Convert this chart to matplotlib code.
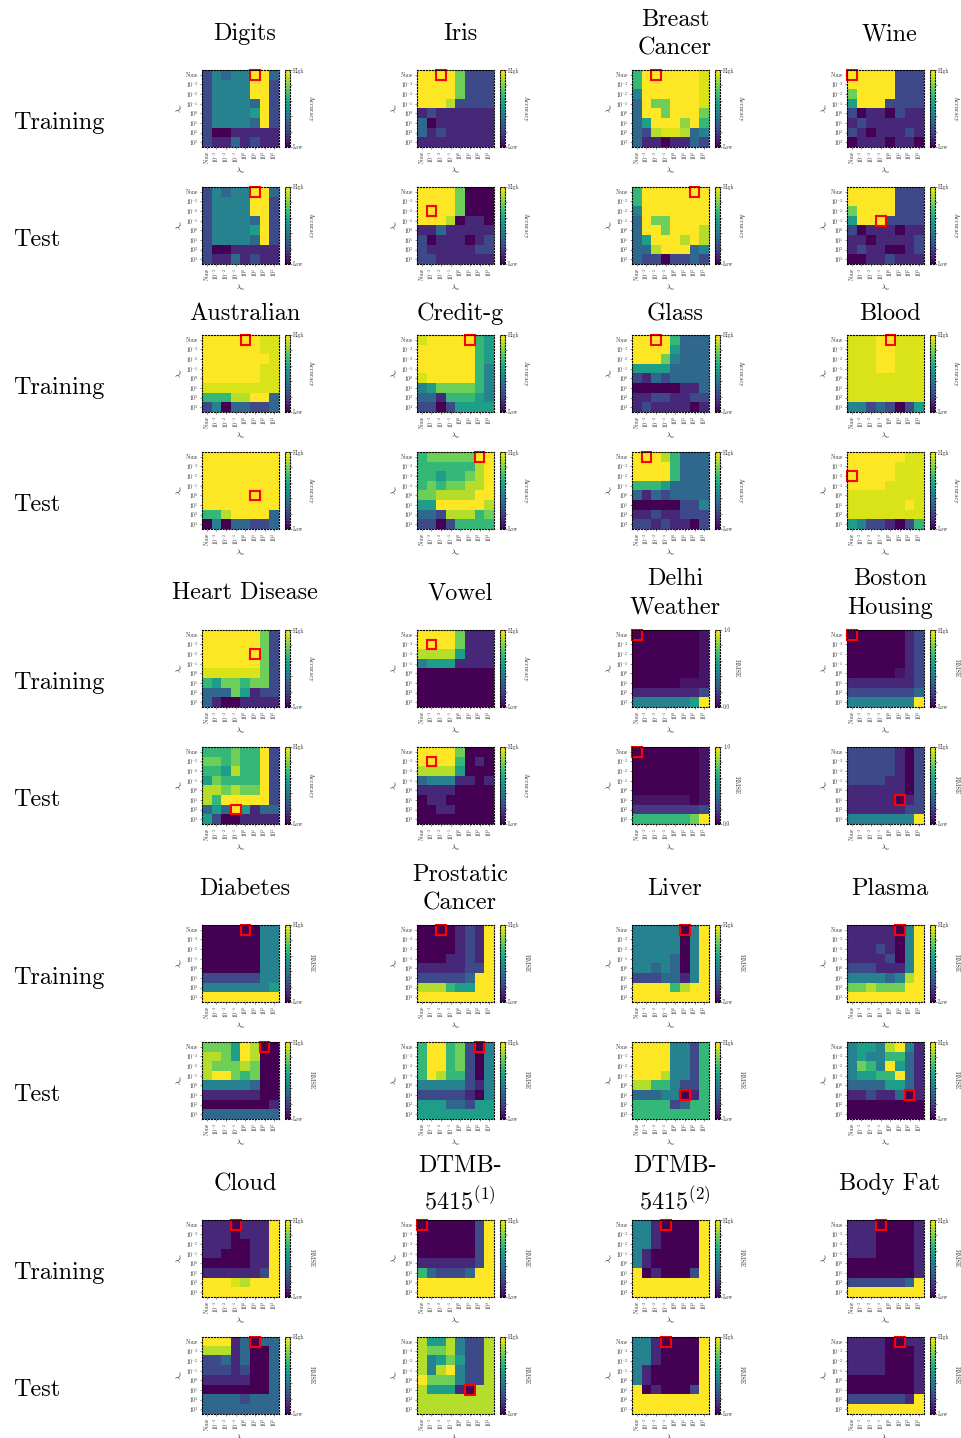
import numpy as np
import matplotlib.pyplot as plt
from matplotlib.patches import Rectangle
from matplotlib.ticker import FixedLocator

plt.rcParams['font.family'] = 'serif'
plt.rcParams['font.serif'] = ['cmr10', 'DejaVu Serif']
plt.rcParams['mathtext.fontset'] = 'cm'
plt.rcParams['axes.unicode_minus'] = False

# grid of regularisation strengths (rows: lambda_w, cols: lambda_u)
reg_labels = ['None', '$10^{-3}$', '$10^{-2}$', '$10^{-1}$',
              '$10^{0}$', '$10^{1}$', '$10^{2}$', '$10^{3}$']

# scores on a 0 (low) .. 9 (high) scale
digits_train = [[2, 4, 3, 4, 4, 9, 9, 3],
                [2, 4, 4, 4, 4, 9, 9, 2],
                [2, 4, 4, 4, 4, 9, 9, 2],
                [2, 4, 4, 4, 4, 3, 9, 2],
                [2, 4, 4, 4, 4, 5, 9, 2],
                [2, 4, 4, 4, 4, 3, 9, 2],
                [2, 0, 0, 1, 1, 1, 1, 1],
                [2, 1, 1, 3, 1, 2, 1, 1]]
digits_test = [[2, 4, 3, 4, 4, 9, 9, 3],
               [2, 4, 4, 4, 4, 9, 9, 2],
               [2, 4, 4, 4, 4, 9, 9, 2],
               [2, 4, 4, 4, 4, 3, 9, 2],
               [2, 4, 4, 4, 4, 5, 9, 2],
               [2, 4, 4, 4, 4, 3, 9, 2],
               [2, 0, 0, 1, 1, 1, 1, 1],
               [2, 1, 1, 3, 1, 2, 1, 1]]
iris_train = [[9, 9, 9, 9, 7, 2, 2, 2],
              [9, 9, 9, 9, 7, 2, 2, 2],
              [9, 9, 9, 9, 7, 2, 2, 2],
              [9, 9, 9, 8, 2, 2, 2, 2],
              [1, 2, 1, 1, 1, 1, 1, 1],
              [3, 0, 1, 1, 1, 1, 1, 1],
              [3, 1, 2, 1, 1, 1, 1, 1],
              [1, 1, 1, 1, 1, 1, 1, 1]]
iris_test = [[9, 9, 9, 9, 7, 0, 0, 0],
             [9, 9, 9, 9, 7, 0, 0, 0],
             [9, 9, 9, 9, 7, 0, 0, 0],
             [9, 9, 9, 8, 0, 1, 1, 0],
             [1, 1, 3, 1, 1, 1, 1, 1],
             [2, 0, 1, 1, 1, 0, 1, 2],
             [2, 1, 1, 1, 1, 1, 2, 2],
             [2, 2, 1, 1, 1, 1, 1, 1]]
breast_train = [[6, 9, 9, 9, 9, 9, 9, 8.5],
                [6, 9, 9, 9, 9, 9, 9, 8.5],
                [4, 9, 9, 9, 9, 9, 9, 8.5],
                [3, 9, 7, 7, 9, 9, 9, 8.5],
                [3, 9, 9, 7, 9, 9, 9, 7],
                [3, 5, 9, 9, 9, 7.5, 9, 6],
                [3, 2, 8, 8.5, 8.5, 8, 3, 4],
                [3, 1, 1, 0, 1, 1, 3, 2]]
breast_test = [[6, 9, 9, 9, 9, 9, 9, 9],
               [6, 9, 9, 9, 9, 9, 9, 9],
               [4, 9, 9, 9, 9, 9, 9, 9],
               [3, 9, 7, 7, 9, 9, 9, 9],
               [3, 9, 9, 7, 9, 9, 9, 8],
               [3, 5, 9, 9, 9, 8, 9, 8],
               [3, 3, 8, 9, 9, 9, 3, 4],
               [3, 2, 2, 0, 2, 2, 3, 2]]
wine_train = [[9, 9, 9, 9, 9, 2, 2, 2],
              [9, 9, 9, 9, 9, 2, 2, 2],
              [7, 9, 9, 9, 9, 2, 2, 2],
              [5, 9, 9, 9, 2, 2, 2, 2],
              [2, 0, 1, 1, 0, 2, 1, 1],
              [1, 2, 1, 1, 1, 1, 1, 1],
              [2, 1, 0, 1, 1, 1, 2, 1],
              [0, 1, 1, 1, 0, 1, 1, 0]]
wine_test = [[9, 9, 9, 9, 9, 2, 2, 2],
             [9, 9, 9, 9, 9, 2, 2, 2],
             [7, 9, 9, 9, 9, 2, 2, 2],
             [5, 9, 9, 9, 2, 2, 2, 2],
             [2, 0, 1, 1, 1, 0, 1, 1],
             [1, 1, 0, 1, 1, 1, 1, 2],
             [1, 2, 1, 1, 0, 0, 1, 2],
             [0, 0, 1, 1, 2, 1, 1, 1]]
australian_train = [[9, 9, 9, 9, 9, 9, 8.5, 8.5],
                    [9, 9, 9, 9, 9, 9, 8.5, 8.5],
                    [9, 9, 9, 9, 9, 9, 9, 8.5],
                    [9, 9, 9, 9, 9, 9, 8.5, 8.5],
                    [9, 9, 9, 9, 9, 9, 8.5, 8.5],
                    [8.5, 8.5, 8.5, 8.5, 8.5, 8.5, 8.5, 8.5],
                    [6, 6, 6, 8, 8, 9, 9, 3],
                    [2, 4, 0, 3, 3, 2, 2, 3]]
australian_test = [[9, 9, 9, 9, 9, 9, 9, 9],
                   [9, 9, 9, 9, 9, 9, 9, 9],
                   [9, 9, 9, 9, 9, 9, 9, 9],
                   [9, 9, 9, 9, 9, 9, 9, 9],
                   [9, 9, 9, 9, 9, 9, 9, 9],
                   [9, 9, 9, 9, 9, 9, 9, 9],
                   [6, 6, 8, 9, 9, 9, 9, 3],
                   [0, 4, 0, 3, 3, 2, 2, 3]]
credit_train = [[8.5, 9, 9, 9, 9, 9, 6, 5],
                [9, 9, 9, 9, 9, 9, 6, 5],
                [9, 9, 9, 9, 9, 9, 6, 5],
                [9, 9, 9, 9, 9, 9, 6, 4],
                [8.5, 9, 9, 9, 9, 9, 6, 4],
                [4, 5, 7, 7, 7, 7, 6, 4],
                [3, 3, 1, 6, 6, 6, 5, 4],
                [2, 2, 0, 2, 5, 5, 5, 5]]
credit_test = [[6, 7, 7, 7, 7, 7, 9, 9],
               [6, 6, 6, 6, 6, 6, 8, 9],
               [6, 6, 5, 6, 6, 7, 8, 9],
               [6, 7, 6, 7, 7, 8, 8, 9],
               [7, 7, 8, 8, 8, 8, 9, 9],
               [5, 5, 9, 9, 9, 9, 9, 8],
               [3, 3, 2, 8, 8, 8, 6, 7],
               [2, 2, 0, 2, 6, 6, 6, 6]]
glass_train = [[9, 9, 9, 9, 6, 3, 3, 3],
               [9, 9, 9, 9, 5, 3, 3, 3],
               [9, 9, 9, 7, 4, 3, 3, 3],
               [5, 5, 5, 5, 3, 3, 3, 3],
               [2, 1, 3, 2, 3, 3, 3, 3],
               [0, 0, 0, 0, 0, 1, 1, 3],
               [1, 1, 2, 2, 1, 1, 2, 2],
               [1, 2, 1, 1, 1, 1, 0, 1]]
glass_test = [[9, 9, 9, 8, 6, 3, 3, 3],
              [9, 9, 9, 9, 6, 3, 3, 3],
              [9, 9, 9, 9, 6, 3, 3, 3],
              [6, 6, 6, 5, 3, 3, 3, 3],
              [3, 1, 3, 2, 3, 3, 3, 3],
              [0, 0, 0, 0, 0, 2, 2, 4],
              [1, 1, 2, 1, 1, 2, 2, 2],
              [2, 2, 1, 2, 1, 1, 0, 2]]
blood_train = [[8.5, 8.5, 8.5, 9, 9, 8.5, 8.5, 8.5],
               [8.5, 8.5, 8.5, 9, 9, 8.5, 8.5, 8.5],
               [8.5, 8.5, 8.5, 9, 9, 8.5, 8.5, 8.5],
               [8.5, 8.5, 8.5, 9, 9, 8.5, 8.5, 8.5],
               [8.5, 8.5, 8.5, 8.5, 8.5, 8.5, 8.5, 8.5],
               [8.5, 8.5, 8.5, 8.5, 8.5, 8.5, 8.5, 8.5],
               [8.5, 8.5, 8.5, 8.5, 8.5, 8.5, 8.5, 8.5],
               [4, 4, 2, 3, 2, 0, 2, 5]]
blood_test = [[9, 9, 9, 9, 9, 9, 8.5, 8.5],
              [9, 9, 9, 9, 9, 8.5, 8.5, 8.5],
              [9, 9, 9, 9, 9, 8.5, 8.5, 8.5],
              [9, 9, 9, 9, 8.5, 8.5, 8.5, 8.5],
              [8.5, 8.5, 8.5, 8.5, 8.5, 8.5, 8.5, 8.5],
              [8.5, 8.5, 8.5, 8.5, 8.5, 8.5, 9, 8.5],
              [8.5, 8.5, 8.5, 8.5, 8.5, 8.5, 8.5, 8.5],
              [5, 4, 2, 2, 1, 0, 2, 6]]
heart_train = [[9, 9, 9, 9, 9, 9, 7, 2],
               [9, 9, 9, 9, 9, 9, 7, 2],
               [9, 9, 9, 9, 9, 9, 7, 2],
               [9, 9, 9, 9, 9, 9, 7, 2],
               [8.5, 8.5, 8.5, 8.5, 8.5, 8.5, 7, 2],
               [6, 5, 7, 7, 6, 7, 7, 2],
               [3, 3, 3, 7, 5, 1, 2, 2],
               [3, 1, 0, 0, 1, 1, 1, 1]]
heart_test = [[6, 6, 6, 7, 6, 6, 9, 2],
              [7, 7, 6, 7, 6, 6, 9, 2],
              [6, 6, 5, 8, 6, 6, 9, 2],
              [5, 7, 6, 6, 6, 6, 9, 2],
              [8, 8, 7, 8, 7, 7, 9, 2],
              [8, 6, 9, 9, 9, 9, 9, 2],
              [3, 5, 3, 9, 5, 1, 3, 3],
              [5, 2, 0, 0, 1, 1, 1, 1]]
vowel_train = [[9, 9, 9, 9, 7, 1, 1, 1],
               [9, 9, 9, 9, 7, 1, 1, 1],
               [8, 8, 8, 8, 5, 1, 1, 1],
               [4, 5, 5, 5, 1, 1, 1, 1],
               [0, 0, 0, 0, 0, 0, 0, 0],
               [0, 0, 0, 0, 0, 0, 0, 0],
               [0, 0, 0, 0, 0, 0, 0, 0],
               [0, 0, 0, 0, 0, 0, 0, 0]]
vowel_test = [[9, 9, 9, 9, 7, 0, 0, 0],
              [9, 9, 9, 9, 6, 0, 1, 0],
              [8, 8, 8, 8, 5, 0, 0, 0],
              [3, 4, 4, 4, 1, 1, 0, 1],
              [1, 1, 1, 1, 0, 0, 0, 0],
              [0, 1, 1, 0, 0, 0, 0, 0],
              [0, 0, 1, 1, 0, 0, 0, 0],
              [0, 0, 0, 0, 0, 0, 0, 0]]
delhi_train = [[0, 0, 0, 0, 0, 0, 0, 0.5],
               [0, 0, 0, 0, 0, 0, 0, 0.5],
               [0, 0, 0, 0, 0, 0, 0, 0.5],
               [0, 0, 0, 0, 0, 0, 0, 0.5],
               [0, 0, 0, 0, 0, 0, 0, 0.5],
               [0, 0, 0, 0, 0, 0.5, 0.5, 0.5],
               [1, 1, 1, 1, 1, 1, 1, 2],
               [4, 4, 4, 4, 4, 4, 5, 9]]
delhi_test = [[0, 0, 0, 0, 0, 0, 0, 0.5],
              [0, 0, 0, 0, 0, 0, 0, 0.5],
              [0, 0, 0, 0, 0, 0, 0, 0.5],
              [0, 0, 0, 0, 0, 0, 0, 0.5],
              [0, 0, 0, 0, 0, 0, 0, 0.5],
              [0.5, 0.5, 0.5, 0.5, 0.5, 0.5, 0, 0.5],
              [1.5, 1.5, 1.5, 1.5, 1.5, 1.5, 1.5, 2],
              [6, 6, 6, 6, 6, 6, 7, 9]]
boston_train = [[0, 0, 0, 0, 0, 0, 1, 2],
                [0, 0, 0, 0, 0, 0, 1, 2],
                [0, 0, 0, 0, 0, 0, 1, 2],
                [0, 0, 0, 0, 0, 0, 1, 2],
                [0, 0, 0, 0, 0, 0.5, 1, 2],
                [1, 1, 1, 1, 1, 1, 1, 2],
                [2, 2, 2, 2, 2, 2, 2, 3],
                [4, 4, 4, 4, 4, 4, 4, 9]]
boston_test = [[2, 2, 2, 2, 2, 1, 0, 2],
               [2, 2, 2, 2, 2, 1, 0, 2],
               [2, 2, 2, 2, 2, 1, 0, 2],
               [2, 2, 2, 2, 1, 1, 0, 2],
               [1, 1, 1, 1, 1, 1, 0, 2],
               [1, 1, 1, 1, 1, 0, 1, 2],
               [1, 1, 1, 1, 1, 1, 2, 2],
               [4, 4, 4, 4, 4, 4, 4, 9]]
diabetes_train = [[0, 0, 0, 0, 0, 0, 4, 4],
                  [0, 0, 0, 0, 0, 0, 4, 4],
                  [0, 0, 0, 0, 0, 0, 4, 4],
                  [0, 0, 0, 0, 0, 0, 4, 4],
                  [0, 0, 0, 0, 0, 0, 4, 4],
                  [2, 2, 2, 2, 2, 2, 4, 4],
                  [4, 4, 4, 4, 4, 4, 4, 5],
                  [9, 9, 9, 9, 9, 9, 9, 9]]
diabetes_test = [[7, 7, 7, 5, 9, 8, 0, 0],
                 [8, 8, 7, 5, 9, 8, 0, 0],
                 [8, 7, 7, 7, 8, 7, 0, 0],
                 [8, 9, 9, 7, 6, 7, 0, 0],
                 [4, 4, 4, 4, 4, 3, 0, 0],
                 [1, 1, 1, 1, 1, 1, 0, 0],
                 [0, 0, 0, 0, 0, 0, 0, 1],
                 [3, 3, 3, 3, 3, 3, 3, 3]]
prostate_train = [[0, 0, 0, 0, 1, 2, 1, 9],
                  [0, 0, 0, 0, 1, 2, 1, 9],
                  [0, 0, 0, 0, 1, 2, 1, 9],
                  [0, 0, 0, 1, 1, 2, 1, 9],
                  [1, 1, 1, 1, 1, 2, 2, 9],
                  [2, 2, 2, 2, 2, 3, 9, 9],
                  [8, 8, 8, 6, 5, 5, 9, 9],
                  [9, 9, 9, 9, 9, 9, 9, 9]]
prostate_test = [[6, 9, 9, 6, 7, 2, 0, 4],
                 [6, 9, 9, 6, 7, 2, 0, 4],
                 [6, 9, 9, 6, 7, 2, 0, 4],
                 [6, 9, 8, 6, 6, 2, 0, 4],
                 [4, 4, 4, 4, 4, 2, 1, 4],
                 [2, 2, 2, 2, 2, 1, 0, 4],
                 [5, 5, 5, 3, 3, 2, 5, 5],
                 [5, 5, 5, 5, 5, 5, 5, 5]]
liver_train = [[4, 4, 4, 4, 4, 0, 4, 9],
               [4, 4, 4, 4, 4, 0, 4, 9],
               [4, 4, 4, 4, 4, 0, 4, 9],
               [4, 4, 4, 4, 3, 0, 4, 9],
               [4, 4, 3, 4, 3, 0, 4, 9],
               [2, 2, 2, 3, 3, 1, 4, 9],
               [9, 9, 9, 9, 6, 8, 9, 9],
               [9, 9, 9, 9, 9, 9, 9, 9]]
liver_test = [[9, 9, 9, 9, 4, 4, 2, 6],
              [9, 9, 9, 9, 4, 4, 2, 6],
              [9, 9, 9, 9, 4, 4, 2, 6],
              [9, 9, 9, 8, 4, 4, 2, 6],
              [8, 8, 6, 6, 4, 2, 2, 6],
              [3, 3, 3, 4, 4, 0, 1, 6],
              [6, 6, 6, 6, 2, 3, 6, 6],
              [6, 6, 6, 6, 6, 6, 6, 6]]
plasma_train = [[1, 1, 1, 1, 1, 0, 4, 9],
                [1, 1, 1, 1, 1, 0, 4, 9],
                [1, 1, 1, 2, 1, 0, 4, 9],
                [1, 1, 1, 1, 2, 0, 4, 9],
                [2, 2, 2, 1, 1, 1, 4, 9],
                [4, 4, 4, 4, 3, 4, 8, 9],
                [7, 7, 8, 7, 7, 7, 9, 9],
                [9, 9, 9, 9, 9, 9, 9, 9]]
plasma_test = [[4, 5, 5, 4, 8, 9, 4, 1],
               [4, 5, 4, 4, 6, 6, 3, 1],
               [4, 7, 6, 4, 9, 5, 3, 1],
               [4, 5, 5, 6, 6, 9, 3, 1],
               [3, 3, 3, 3, 5, 5, 3, 1],
               [1, 1, 2, 1, 1, 3, 0, 1],
               [0, 0, 0, 0, 0, 0, 0, 0],
               [0, 0, 0, 0, 0, 0, 0, 0]]
cloud_train = [[1, 1, 1, 0, 1, 1, 1, 9],
               [1, 1, 1, 0, 1, 1, 1, 9],
               [1, 1, 1, 0, 0, 1, 1, 9],
               [1, 1, 0, 0, 0, 1, 1, 9],
               [0, 0, 0, 0, 0, 1, 1, 9],
               [1, 1, 1, 1, 1, 1, 2, 9],
               [9, 9, 9, 8.5, 8, 9, 9, 9],
               [9, 9, 9, 9, 9, 9, 9, 9]]
cloud_test = [[9, 9, 9, 1, 3, 0, 3, 3],
              [8, 8, 8, 1, 3, 0, 0, 3],
              [2, 2, 3, 1, 3, 0, 0, 3],
              [2, 2, 2, 1, 2, 0, 0, 3],
              [1, 1, 1, 1, 1, 0, 0, 3],
              [0, 0, 0, 0, 0, 0, 0, 3],
              [3, 3, 3, 3, 2, 3, 3, 3],
              [3, 3, 3, 3, 3, 3, 3, 3]]
dtmb1_train = [[0, 0, 0, 0, 0, 0, 2, 9],
               [0, 0, 0, 0, 0, 0, 2, 9],
               [0, 0, 0, 0, 0, 0, 2, 9],
               [0, 0, 0, 0, 0, 0, 2, 9],
               [1, 1, 1, 1, 1, 1, 2, 9],
               [6, 3, 2, 2, 2, 3, 9, 9],
               [9, 9, 9, 9, 9, 9, 9, 9],
               [9, 9, 9, 9, 9, 9, 9, 9]]
dtmb1_test = [[8, 5, 5, 8, 4, 2, 2, 8],
              [8, 7, 7, 8, 4, 2, 2, 8],
              [8, 4, 5, 7, 5, 2, 2, 8],
              [8, 4, 8, 9, 4, 2, 2, 8],
              [9, 7, 7, 7, 4, 2, 2, 8],
              [8, 5, 5, 5, 1, 0, 8, 8],
              [8, 8, 8, 8, 8, 8, 8, 8],
              [8, 8, 8, 8, 8, 8, 8, 8]]
dtmb2_train = [[4, 4, 1, 0, 0, 0, 0, 9],
               [4, 4, 1, 0, 0, 0, 0, 9],
               [4, 4, 1, 0, 0, 0, 0, 9],
               [4, 1, 0, 0, 0, 0, 0, 9],
               [4, 1, 0, 0, 0, 0, 0, 9],
               [9, 0, 1, 0, 0, 0, 2, 9],
               [9, 9, 9, 9, 9, 9, 9, 9],
               [9, 9, 9, 9, 9, 9, 9, 9]]
dtmb2_test = [[4, 4, 1, 0, 0, 0, 0, 9],
              [4, 4, 1, 0, 0, 0, 0, 9],
              [4, 4, 1, 0, 0, 0, 0, 9],
              [4, 1, 0, 0, 0, 0, 0, 9],
              [4, 1, 0, 0, 0, 0, 0, 9],
              [9, 0, 1, 0, 0, 0, 2, 9],
              [9, 9, 9, 9, 9, 9, 9, 9],
              [9, 9, 9, 9, 9, 9, 9, 9]]
bodyfat_train = [[1, 1, 1, 0, 0, 0, 0, 1],
                 [1, 1, 1, 0, 0, 0, 0, 1],
                 [1, 1, 1, 0, 0, 0, 0, 1],
                 [1, 1, 1, 0, 0, 0, 0, 1],
                 [0, 0, 0, 0, 0, 0, 0, 1],
                 [0, 0, 0, 0, 0, 0, 0, 1],
                 [2, 2, 2, 2, 2, 2, 3, 9],
                 [9, 9, 9, 9, 9, 9, 9, 9]]
bodyfat_test = [[1, 1, 1, 1, 0, 0, 1, 1],
                [1, 1, 1, 1, 0, 0, 0, 1],
                [1, 1, 1, 1, 0, 0, 0, 1],
                [1, 1, 1, 1, 0, 0, 0, 1],
                [0, 0, 0, 0, 0, 0, 0, 1],
                [0, 0, 0, 0, 0, 0, 0, 1],
                [2, 2, 2, 2, 2, 2, 1, 9],
                [9, 9, 9, 9, 9, 9, 9, 9]]

titles = ['Digits', 'Iris', 'Breast\nCancer', 'Wine',
          'Australian', 'Credit-g', 'Glass', 'Blood',
          'Heart Disease', 'Vowel', 'Delhi\nWeather', 'Boston\nHousing',
          'Diabetes', 'Prostatic\nCancer', 'Liver', 'Plasma',
          'Cloud', 'DTMB-\n5415$^{(1)}$', 'DTMB-\n5415$^{(2)}$', 'Body Fat']
metrics = ['Accuracy'] * 10 + ['RMSE'] * 10
train_maps = [digits_train, iris_train, breast_train, wine_train,
              australian_train, credit_train, glass_train, blood_train,
              heart_train, vowel_train, delhi_train, boston_train,
              diabetes_train, prostate_train, liver_train, plasma_train,
              cloud_train, dtmb1_train, dtmb2_train, bodyfat_train]
test_maps = [digits_test, iris_test, breast_test, wine_test,
             australian_test, credit_test, glass_test, blood_test,
             heart_test, vowel_test, delhi_test, boston_test,
             diabetes_test, prostate_test, liver_test, plasma_test,
             cloud_test, dtmb1_test, dtmb2_test, bodyfat_test]
# selected (row, col) cell per map
train_best = [(0, 5), (0, 2), (0, 2), (0, 0),
              (0, 4), (0, 5), (0, 2), (0, 4),
              (2, 5), (1, 1), (0, 0), (0, 0),
              (0, 4), (0, 2), (0, 5), (0, 5),
              (0, 3), (0, 0), (0, 3), (0, 3)]
test_best = [(0, 5), (2, 1), (0, 6), (3, 3),
             (4, 5), (0, 6), (0, 1), (2, 0),
             (6, 3), (1, 1), (0, 0), (5, 5),
             (0, 6), (0, 6), (5, 5), (5, 6),
             (0, 5), (5, 5), (0, 3), (0, 5)]
numeric_cbar = ['Delhi\nWeather']

W, H = 961, 1438
col_x = [202, 417, 632, 847]
group_top = [70, 335, 630, 925, 1220]
title_y = [34, 314, 593, 889, 1184]
box_w, box_h = 77, 77

fig = plt.figure(figsize=(W / 100, H / 100), dpi=100)


def draw_map(data, left, top, metric, best, numeric):
    ax = fig.add_axes([left / W, 1 - (top + box_h) / H, box_w / W, box_h / H])
    im = ax.imshow(np.array(data, dtype=float), cmap='viridis', vmin=0, vmax=9,
                   aspect='auto', interpolation='nearest')
    ax.set_xticks(range(8))
    ax.set_yticks(range(8))
    ax.set_xticklabels(reg_labels, rotation=90)
    ax.set_yticklabels(reg_labels)
    ax.tick_params(length=1.5, width=0.4, pad=1, labelsize=4, colors='#333333')
    ax.set_xlabel(r'$\lambda_u$', fontsize=5, labelpad=2)
    ax.set_ylabel(r'$\lambda_w$', fontsize=5, labelpad=1)
    for s in ax.spines.values():
        s.set_linestyle(':')
        s.set_linewidth(0.8)
    r, c = best
    ax.add_patch(Rectangle((c - 0.5, r - 0.5), 1, 1, fill=False,
                           edgecolor='red', linewidth=1.5, clip_on=False))

    cax = fig.add_axes([(left + 83) / W, 1 - (top + box_h) / H, 5 / W, box_h / H])
    cb = fig.colorbar(im, cax=cax)
    cb.set_ticks([0, 9])
    cb.set_ticklabels(['0.0', '1.0'] if numeric else ['Low', 'High'])
    cb.ax.yaxis.set_minor_locator(FixedLocator([1.8, 3.6, 5.4, 7.2]))
    cb.ax.tick_params(which='both', length=1.2, width=0.4, pad=1, labelsize=4,
                      colors='#333333')
    cb.outline.set_linestyle(':')
    cb.outline.set_linewidth(0.8)
    cb.set_label(metric, rotation=270, fontsize=4.5, labelpad=7, color='#333333')


for i, name in enumerate(titles):
    g, c = divmod(i, 4)
    x0 = col_x[c]
    top = group_top[g]
    fig.text((x0 + 43) / W, 1 - title_y[g] / H, name, ha='center', va='center',
             fontsize=17.5, linespacing=1.4)
    numeric = name in numeric_cbar
    draw_map(train_maps[i], x0, top, metrics[i], train_best[i], numeric)
    draw_map(test_maps[i], x0, top + 117, metrics[i], test_best[i], numeric)

for top in group_top:
    fig.text(13 / W, 1 - (top + 53) / H, 'Training', ha='left', va='center',
             fontsize=17.5)
    fig.text(13 / W, 1 - (top + 170) / H, 'Test', ha='left', va='center',
             fontsize=17.5)

fig.savefig('out.png', dpi=100)
